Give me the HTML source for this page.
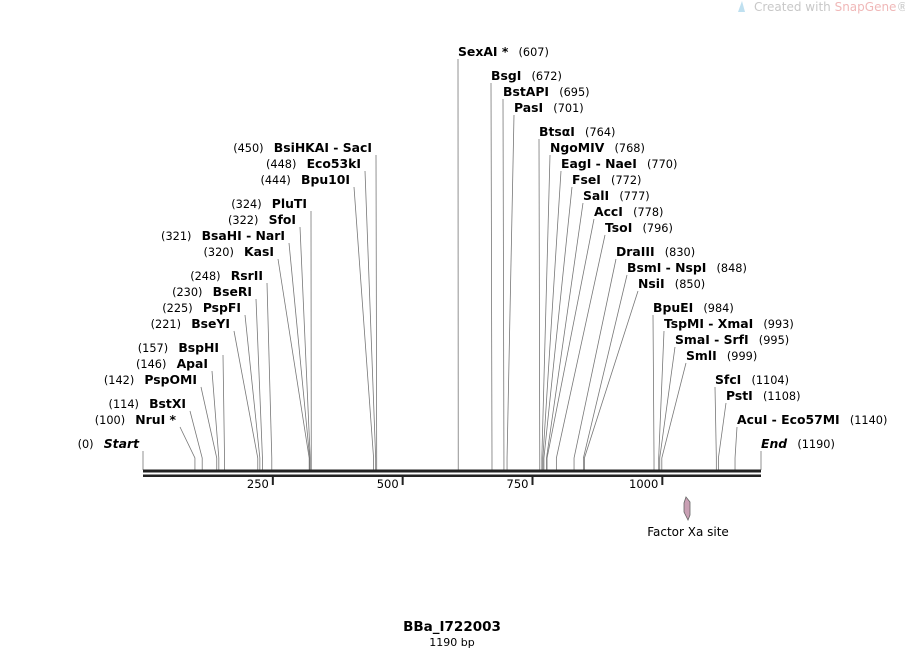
<!DOCTYPE html>
<html><head><meta charset="utf-8"><style>
html,body{margin:0;padding:0;background:#fff;}
svg{display:block;font-family:"DejaVu Sans","Liberation Sans",sans-serif;}
.nm{font-weight:bold;font-size:12.4px;fill:#000;}
.ps{font-size:11.3px;fill:#000;}
</style></head><body>
<svg id="map" width="905" height="648" viewBox="0 0 905 648" xmlns="http://www.w3.org/2000/svg">
<path d="M738,12 L742,1 L745,12 Z" fill="#bfe0f0"/>
<text x="754" y="11" font-size="12" fill="#c8c8c8">Created with <tspan fill="#f0b8b8">SnapGene</tspan>®</text>
<g id="sites"></g>
<g id="axis"></g>
<polygon points="686,497 690,502 690,515 688,520 684,512 684,503" fill="#c9a0b4" stroke="#666" stroke-width="0.8"/>
<text x="688" y="536" font-size="12" text-anchor="middle">Factor Xa site</text>
<text x="452" y="631" font-size="13.5" font-weight="bold" text-anchor="middle">BBa_I722003</text>
<text x="452" y="646" font-size="11" text-anchor="middle">1190 bp</text>
</svg>
<script>
const seqLength = 1190;
const tickValues = [250, 500, 750, 1000];
const leftNames = ["Start","NruI *","BstXI","PspOMI","ApaI","BspHI","BseYI","PspFI","BseRI","RsrII","KasI","BsaHI - NarI","SfoI","PluTI","Bpu10I","Eco53kI","BsiHKAI - SacI"];
const leftPos = [0,100,114,142,146,157,221,225,230,248,320,321,322,324,444,448,450];
const leftRow = [444,420,404,380,364,348,324,308,292,276,252,236,220,204,180,164,148];
const leftAnchor = [143,180,190,201,212,223,234,245,256,267,278,289,300,311,354,365,376];
const rightNames = ["SexAI *","BsgI","BstAPI","PasI","Btsα\u0049","NgoMIV","EagI - NaeI","FseI","SalI","AccI","TsoI","DraIII","BsmI - NspI","NsiI","BpuEI","TspMI - XmaI","SmaI - SrfI","SmlI","SfcI","PstI","AcuI - Eco57MI","End"];
const rightPos = [607,672,695,701,764,768,770,772,777,778,796,830,848,850,984,993,995,999,1104,1108,1140,1190];
const rightRow = [52,76,92,108,132,148,164,180,196,212,228,252,268,284,308,324,340,356,380,396,420,444];
const rightAnchor = [458,491,503,514,539,550,561,572,583,594,605,616,627,638,653,664,675,686,715,726,737,761];

const x0 = 143, x1 = 761, baseY = 470, stubY = 458;
const sx = p => x0 + p * (x1 - x0) / seqLength;
const NS = "http://www.w3.org/2000/svg";
function mk(tag, attrs, parent) {
  const e = document.createElementNS(NS, tag);
  for (const k in attrs) e.setAttribute(k, attrs[k]);
  parent.appendChild(e);
  return e;
}
const sites = document.getElementById('sites');
const axis = document.getElementById('axis');

function drawSite(name, pos, row, ax, side) {
  const cx = sx(pos);
  const g = mk('g', {}, sites);
  
  
  const topY = row + 7;
  const pl = mk('polyline', {points: `${cx},${baseY} ${cx},${stubY} ${ax},${topY}`, fill: 'none', stroke: '#777', 'stroke-width': 0.8}, g);
  
  
  const t = mk('text', {y: row + 4}, g);
  
  
  const italic = (name === 'Start' || name === 'End') ? ' font-style="italic"' : '';
  const nm = `<tspan class="nm"${italic}>${name}</tspan>`;
  const ps = `<tspan class="ps">(${pos})</tspan>`;
  if (side === 'L') {
    t.setAttribute('x', ax - 4);
    t.setAttribute('text-anchor', 'end');
    t.innerHTML = ps + '\u00a0\u00a0' + nm;
  } else {
    t.setAttribute('x', ax);
    t.setAttribute('text-anchor', 'start');
    t.innerHTML = nm + '\u00a0\u00a0' + ps;
  }
}
leftNames.forEach((n, i) => drawSite(n, leftPos[i], leftRow[i], leftAnchor[i], 'L'));
rightNames.forEach((n, i) => drawSite(n, rightPos[i], rightRow[i], rightAnchor[i], 'R'));

const b1 = mk('rect', {x: x0, y: 469.5, width: x1 - x0, height: 3, fill: '#222'}, axis);


const b2 = mk('rect', {x: x0, y: 474.5, width: x1 - x0, height: 2.5, fill: '#222'}, axis);


tickValues.forEach(v => {
  const x = sx(v);
  const tk = mk('rect', {x: x - 1, y: 476, width: 2, height: 9, fill: '#222'}, axis);
  
  
  const tl = mk('text', {x: x - 4, y: 488, 'font-size': 11.5, 'text-anchor': 'end'}, axis);
  
  
  tl.textContent = v;
});
</script>
</body></html>
